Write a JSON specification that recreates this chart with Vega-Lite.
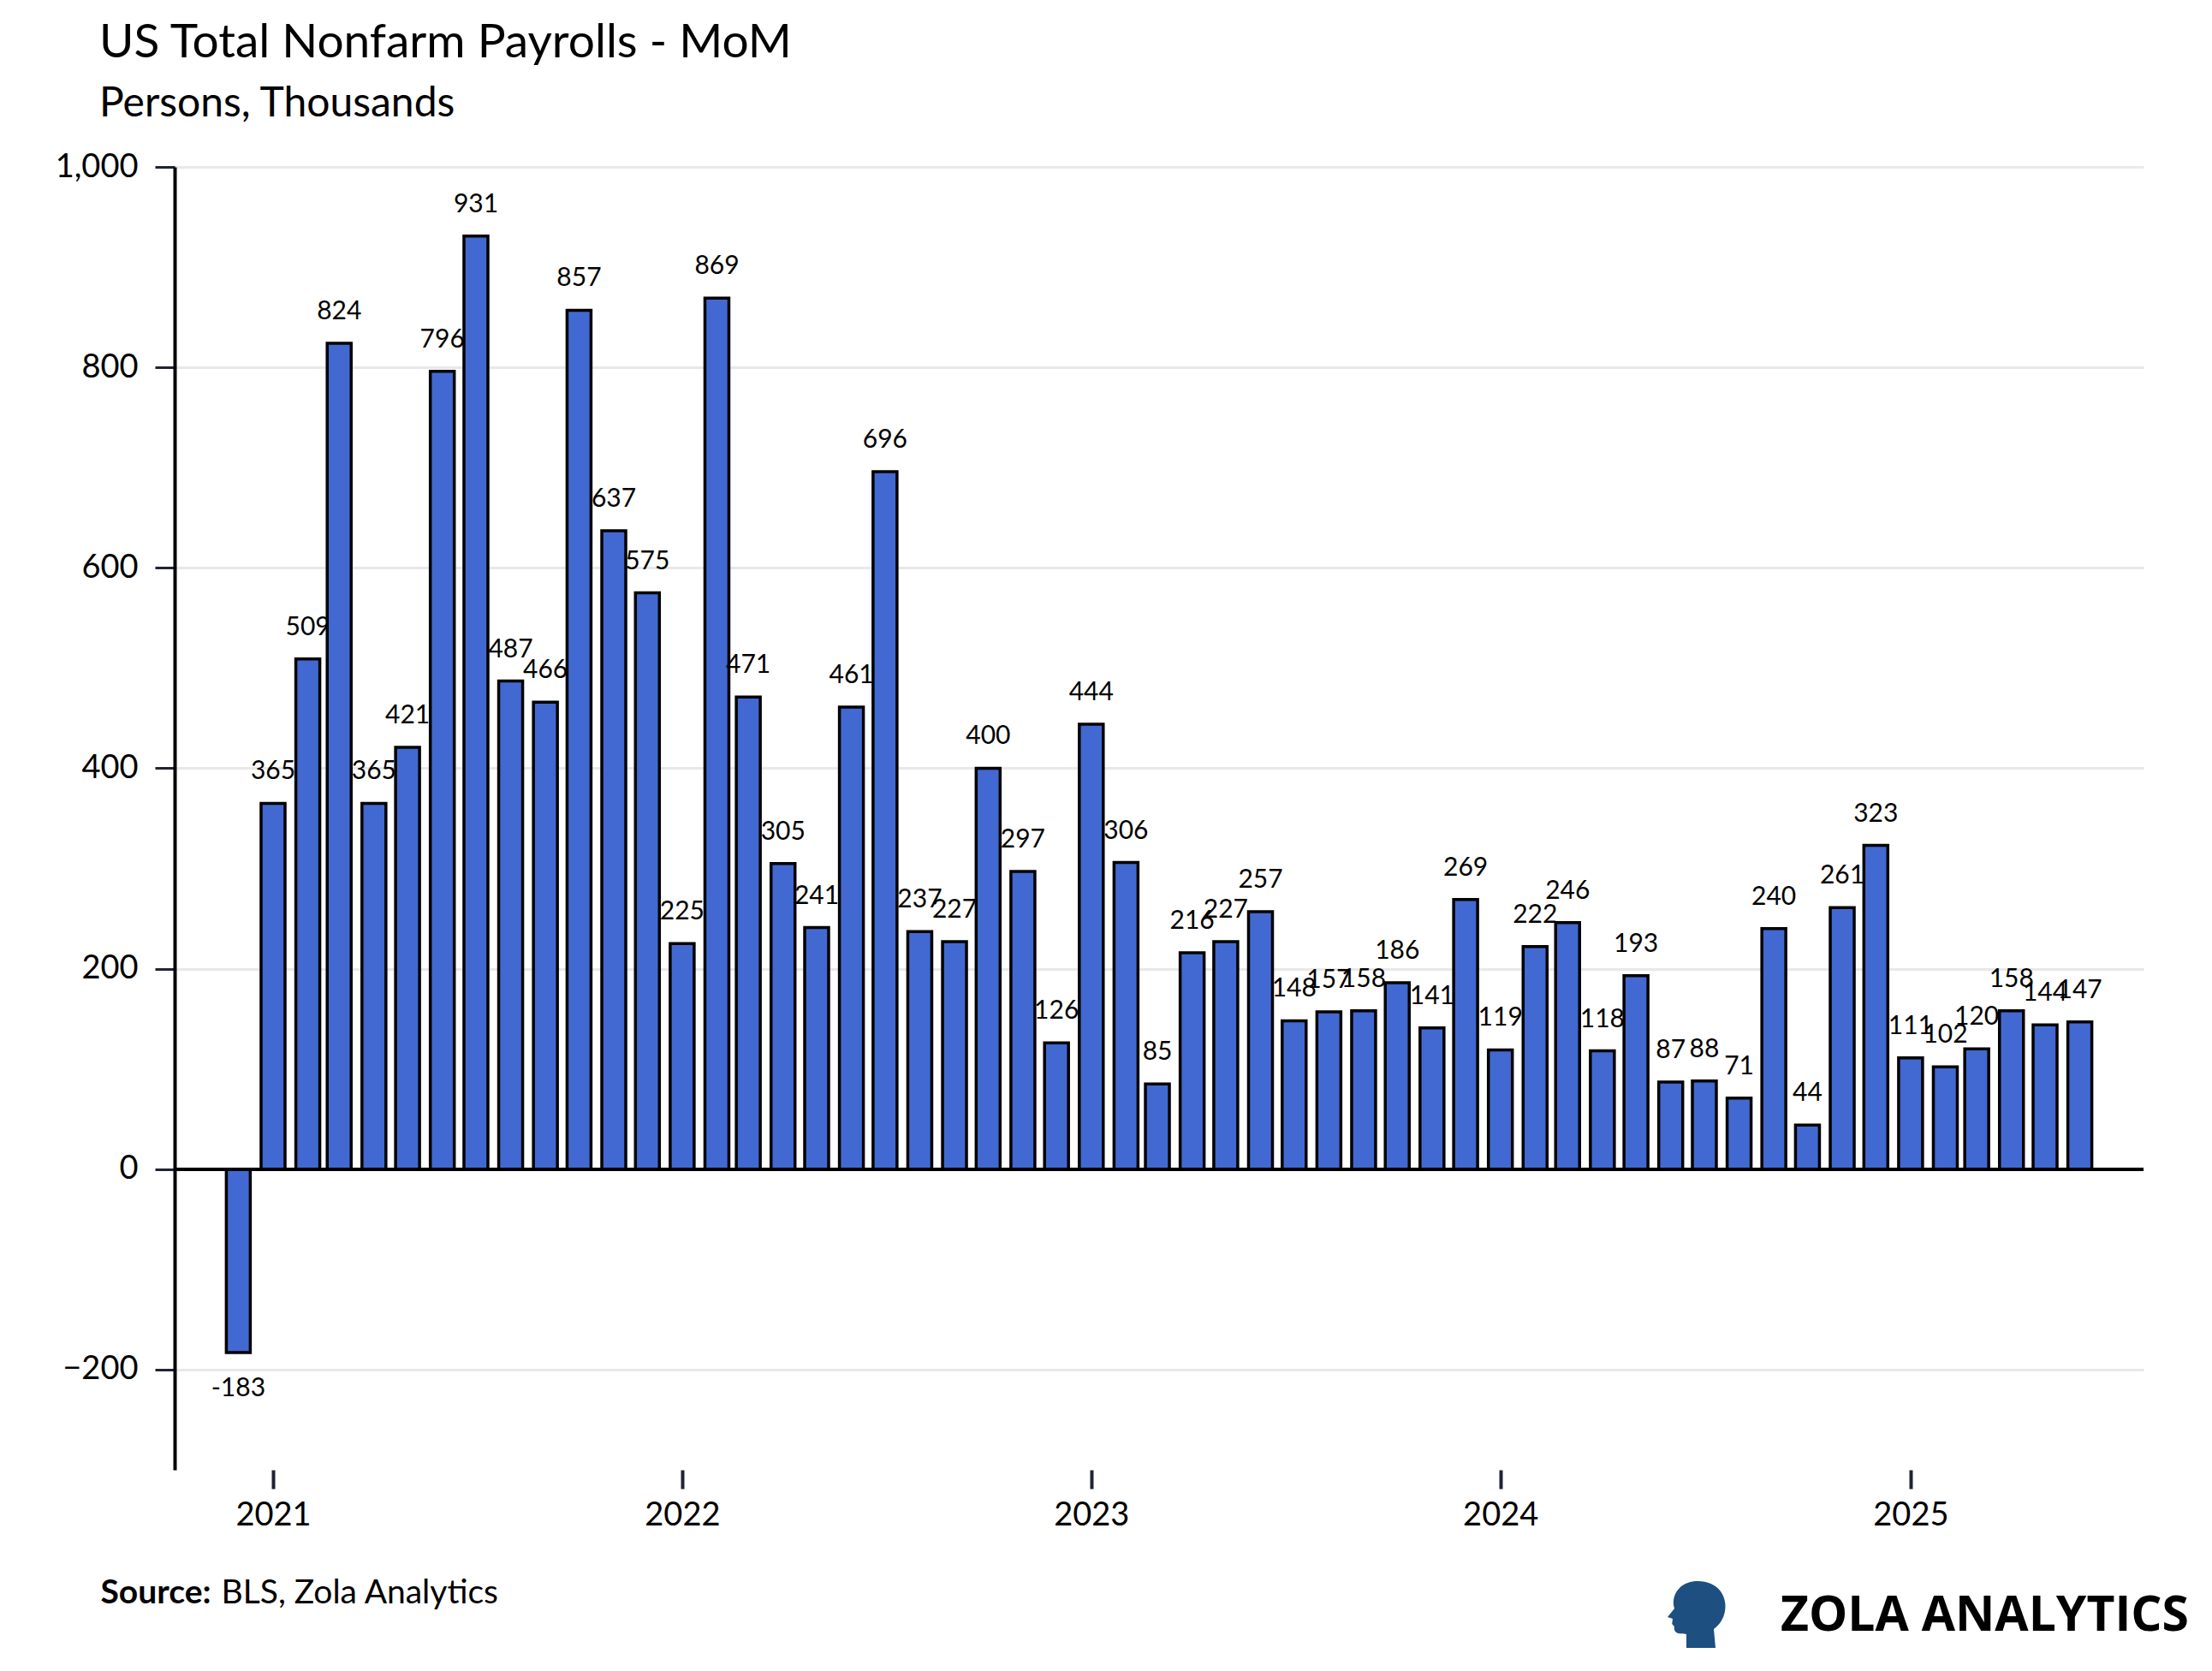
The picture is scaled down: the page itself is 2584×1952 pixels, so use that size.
{
  "$schema": "https://vega.github.io/schema/vega-lite/v6.json",
  "width": 2300,
  "height": 1522,
  "autosize": {"type": "none"},
  "padding": {"left": 204, "top": 195, "right": 80, "bottom": 235},
  "background": "white",
  "title": {
    "text": "US Total Nonfarm Payrolls - MoM",
    "subtitle": "Persons, Thousands",
    "anchor": "start",
    "frame": "group",
    "dx": -88,
    "font": "Lato",
    "fontSize": 55,
    "fontWeight": "normal",
    "color": "#000000",
    "subtitleFont": "Lato",
    "subtitleFontSize": 48,
    "subtitleColor": "#000000",
    "subtitlePadding": 19,
    "offset": 29
  },
  "config": {"view": {"stroke": null}},
  "data": {
    "values": [
      {"date": "2020-12-01", "v": -183},
      {"date": "2021-01-01", "v": 365},
      {"date": "2021-02-01", "v": 509},
      {"date": "2021-03-01", "v": 824},
      {"date": "2021-04-01", "v": 365},
      {"date": "2021-05-01", "v": 421},
      {"date": "2021-06-01", "v": 796},
      {"date": "2021-07-01", "v": 931},
      {"date": "2021-08-01", "v": 487},
      {"date": "2021-09-01", "v": 466},
      {"date": "2021-10-01", "v": 857},
      {"date": "2021-11-01", "v": 637},
      {"date": "2021-12-01", "v": 575},
      {"date": "2022-01-01", "v": 225},
      {"date": "2022-02-01", "v": 869},
      {"date": "2022-03-01", "v": 471},
      {"date": "2022-04-01", "v": 305},
      {"date": "2022-05-01", "v": 241},
      {"date": "2022-06-01", "v": 461},
      {"date": "2022-07-01", "v": 696},
      {"date": "2022-08-01", "v": 237},
      {"date": "2022-09-01", "v": 227},
      {"date": "2022-10-01", "v": 400},
      {"date": "2022-11-01", "v": 297},
      {"date": "2022-12-01", "v": 126},
      {"date": "2023-01-01", "v": 444},
      {"date": "2023-02-01", "v": 306},
      {"date": "2023-03-01", "v": 85},
      {"date": "2023-04-01", "v": 216},
      {"date": "2023-05-01", "v": 227},
      {"date": "2023-06-01", "v": 257},
      {"date": "2023-07-01", "v": 148},
      {"date": "2023-08-01", "v": 157},
      {"date": "2023-09-01", "v": 158},
      {"date": "2023-10-01", "v": 186},
      {"date": "2023-11-01", "v": 141},
      {"date": "2023-12-01", "v": 269},
      {"date": "2024-01-01", "v": 119},
      {"date": "2024-02-01", "v": 222},
      {"date": "2024-03-01", "v": 246},
      {"date": "2024-04-01", "v": 118},
      {"date": "2024-05-01", "v": 193},
      {"date": "2024-06-01", "v": 87},
      {"date": "2024-07-01", "v": 88},
      {"date": "2024-08-01", "v": 71},
      {"date": "2024-09-01", "v": 240},
      {"date": "2024-10-01", "v": 44},
      {"date": "2024-11-01", "v": 261},
      {"date": "2024-12-01", "v": 323},
      {"date": "2025-01-01", "v": 111},
      {"date": "2025-02-01", "v": 102},
      {"date": "2025-03-01", "v": 120},
      {"date": "2025-04-01", "v": 158},
      {"date": "2025-05-01", "v": 144},
      {"date": "2025-06-01", "v": 147}
    ]
  },
  "encoding": {
    "x": {
      "field": "date",
      "type": "temporal",
      "scale": {
        "type": "utc",
        "domain": [
          {"year": 2020, "month": 10, "date": 9, "utc": true},
          {"year": 2025, "month": 7, "date": 24, "utc": true}
        ]
      },
      "axis": {
        "values": [
          {"year": 2021, "month": 1, "date": 1, "utc": true},
          {"year": 2022, "month": 1, "date": 1, "utc": true},
          {"year": 2023, "month": 1, "date": 1, "utc": true},
          {"year": 2024, "month": 1, "date": 1, "utc": true},
          {"year": 2025, "month": 1, "date": 1, "utc": true}
        ],
        "format": "%Y",
        "formatType": "utc",
        "grid": false,
        "domain": false,
        "tickSize": 22,
        "tickWidth": 4,
        "tickColor": "#1f2333",
        "labelFont": "Lato",
        "labelFontSize": 38,
        "labelColor": "#000000",
        "labelPadding": 12,
        "title": "BLS, Zola Analytics",
        "titleFont": "Lato",
        "titleFontSize": 39,
        "titleFontWeight": "normal",
        "titleColor": "#000000",
        "titleAlign": "left",
        "titleAnchor": "start",
        "titleBaseline": "alphabetic",
        "titleX": 54,
        "titleY": 155
      }
    },
    "y": {
      "field": "v",
      "type": "quantitative",
      "scale": {"domain": [-300, 1000], "nice": false},
      "axis": {
        "values": [-200, 0, 200, 400, 600, 800, 1000],
        "format": ",.0f",
        "labelFont": "Lato",
        "labelFontSize": 38,
        "labelColor": "#000000",
        "labelPadding": 20,
        "tickSize": 23,
        "tickWidth": 3,
        "tickColor": "#1f2333",
        "domainColor": "#000000",
        "domainWidth": 4,
        "gridColor": "#e8e8e8",
        "gridWidth": 3,
        "title": "Source:",
        "titleFont": "Lato",
        "titleFontSize": 39,
        "titleFontWeight": "bold",
        "titleColor": "#000000",
        "titleAngle": 0,
        "titleAlign": "left",
        "titleAnchor": "start",
        "titleBaseline": "alphabetic",
        "titleX": -87,
        "titleY": 1677
      }
    }
  },
  "layer": [
    {
      "mark": {"type": "bar", "size": 28, "fill": "#4169d1", "stroke": "#000000", "strokeWidth": 3.5}
    },
    {
      "mark": {"type": "rule", "color": "#000000", "strokeWidth": 3.5},
      "encoding": {"x": null, "y": {"datum": 0}}
    },
    {
      "transform": [{"filter": "datum.v >= 0"}],
      "mark": {"type": "text", "font": "Lato", "fontSize": 30, "color": "#000000", "align": "center", "baseline": "alphabetic", "dy": -28},
      "encoding": {"text": {"field": "v", "type": "nominal"}}
    },
    {
      "transform": [{"filter": "datum.v < 0"}],
      "mark": {"type": "text", "font": "Lato", "fontSize": 30, "color": "#000000", "align": "center", "baseline": "alphabetic", "dy": 51},
      "encoding": {"text": {"field": "v", "type": "nominal"}}
    },
    {
      "transform": [{"filter": "datum.v < 0"}],
      "mark": {"type": "text", "text": "ZOLA ANALYTICS", "font": "Open Sans", "fontSize": 57, "fontWeight": "bold", "color": "#000000", "align": "right", "baseline": "alphabetic", "dx": 58, "dy": 188},
      "encoding": {
        "x": {"datum": {"year": 2025, "month": 7, "date": 24, "utc": true}, "type": "temporal"},
        "y": {"datum": -300, "type": "quantitative"}
      }
    },
    {
      "transform": [{"filter": "datum.v < 0"}],
      "mark": {"type": "point", "filled": true, "fill": "#1d4f80", "opacity": 1, "strokeWidth": 0, "size": 6400,
        "shape": "M 0.55 1 L 0.5 0.45 C 0.85 0.2 0.95 -0.3 0.7 -0.65 C 0.45 -1 -0.2 -1.05 -0.5 -0.75 C -0.7 -0.55 -0.7 -0.3 -0.65 -0.15 L -0.85 0.1 L -0.7 0.15 L -0.72 0.3 L -0.65 0.38 C -0.68 0.5 -0.6 0.6 -0.4 0.58 L -0.3 0.6 L -0.3 1 Z"},
      "encoding": {
        "x": {"datum": {"year": 2025, "month": 7, "date": 24, "utc": true}, "type": "temporal"},
        "y": {"datum": -300, "type": "quantitative"},
        "xOffset": {"value": -517},
        "yOffset": {"value": 168}
      }
    }
  ]
}
